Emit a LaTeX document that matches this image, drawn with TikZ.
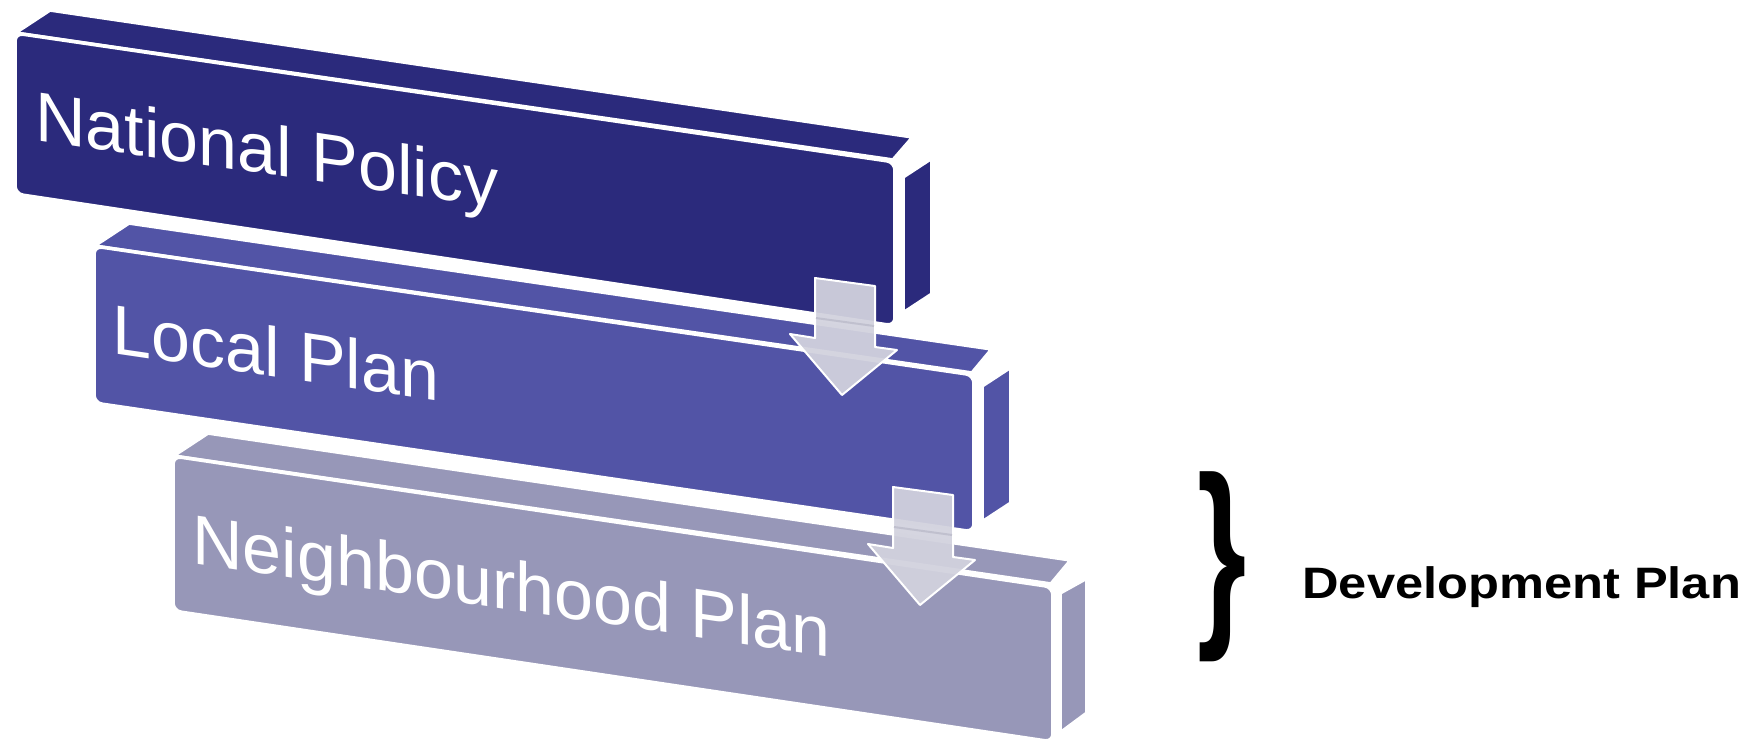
\documentclass[tikz,border=0pt]{standalone}
\usepackage{fontspec}
\setmainfont{Liberation Sans}
\definecolor{boxA}{RGB}{43,42,124}
\definecolor{boxB}{RGB}{82,84,166}
\definecolor{boxC}{RGB}{151,151,184}
\definecolor{arrowgrey}{RGB}{210,210,222}
\definecolor{arrowline}{RGB}{192,192,206}
\begin{document}
\begin{tikzpicture}[x=0.5pt,y=-0.5pt,
  face/.style={draw=white, line width=1.8pt, line join=round},
  frontface/.style={face, rounded corners=4pt},
  boxlabel/.style={text=white, font=\fontsize{35pt}{35pt}\selectfont, anchor=base west, inner sep=0pt, transform shape},
  blockarrow/.style={fill=arrowgrey, draw=white, line width=1pt, line join=round, fill opacity=0.94},
  shaftline/.style={draw=arrowline, line width=1pt}]
\useasboundingbox (0,0) rectangle (1763,746);

% ---- box 3 : Neighbourhood Plan ----
\path[face, fill=boxC] (173,456) -- (208,433) -- (1071,560) -- (1051,584) -- cycle;
\path[face, fill=boxC] (1060,593) -- (1087,578) -- (1087,713) -- (1060,733) -- cycle;
\path[frontface, fill=boxC] (173,456) -- (1053,587) -- (1053,742) -- (173,611) -- cycle;

% ---- box 2 : Local Plan ----
\path[face, fill=boxB] (94,246) -- (129,223) -- (992,349) -- (972,373) -- cycle;
\path[face, fill=boxB] (982,386) -- (1011,367) -- (1011,503) -- (982,522) -- cycle;
\path[frontface, fill=boxB] (94,246) -- (974,375) -- (974,532) -- (94,403) -- cycle;

% ---- box 1 : National Policy ----
\path[face, fill=boxA] (15,33) -- (50,10) -- (913,137) -- (893,160) -- cycle;
\path[face, fill=boxA] (903,177) -- (932,158) -- (932,294) -- (903,313) -- cycle;
\path[frontface, fill=boxA] (15,33) -- (895,162) -- (895,326) -- (15,194) -- cycle;

% ---- labels ----
\begin{scope}[shift={(35,140)}, yslant=-0.147]
  \node[boxlabel] (np) at (0,0) {National Policy};
\end{scope}
\begin{scope}[shift={(112,353)}, yslant=-0.147]
  \node[boxlabel] (lp) at (0,0) {Local Plan};
\end{scope}
\begin{scope}[shift={(192,563)}, yslant=-0.147]
  \node[boxlabel] (nhp) at (0,0) {Neighbourhood Plan};
\end{scope}

% ---- block arrows ----
\path[blockarrow] (815,278) -- (875,286) -- (875,347) -- (897,350) -- (842,395) -- (790,334) -- (815,338) -- cycle;
\path[shaftline] (816,318) -- (874,326);
\path[blockarrow] (893,487) -- (953,495) -- (953,557) -- (975,560) -- (920,605) -- (868,544) -- (893,548) -- cycle;
\path[shaftline] (894,527) -- (952,535);

% ---- brace and caption ----
\node[inner sep=0pt, font=\bfseries\fontsize{102pt}{102pt}\selectfont] (brace) at (1222,567) {\scalebox{0.62}[1]{\}}};
\node[inner sep=0pt, anchor=base west, font=\bfseries\fontsize{22pt}{22pt}\selectfont] (dev) at (1302,598) {\scalebox{1.15}[1]{Development Plan}};
\end{tikzpicture}
\end{document}
